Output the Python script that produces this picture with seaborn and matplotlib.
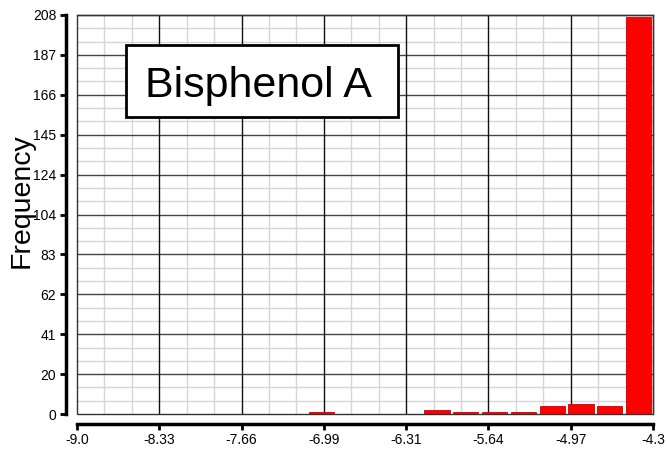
# =========================================================
# BISPHENOL A HISTOGRAM
# =========================================================

import matplotlib
matplotlib.use("Agg")

import matplotlib.pyplot as plt
from matplotlib.patches import Rectangle
from matplotlib.ticker import AutoMinorLocator
import seaborn as sns
import pandas as pd
import numpy as np

# =========================================================
# DATA
# =========================================================

title_text = "Bisphenol A"

x_min = -9.0
x_max = -4.3
n_bins = 20

bin_counts = [0, 0, 0, 0, 0, 0, 0, 0, 1, 0,
              0, 0, 2, 1, 1, 1, 4, 5, 4, 207]

x_tick_labels = ["-9.0", "-8.33", "-7.66", "-6.99",
                 "-6.31", "-5.64", "-4.97", "-4.3"]

y_tick_labels = ["0", "20", "41", "62", "83", "104",
                 "124", "145", "166", "187", "208"]

y_max = 208

# =========================================================
# PLOT
# =========================================================

sns.set_style("white")
plt.rcParams["font.family"] = ["Liberation Sans", "DejaVu Sans"]
plt.rcParams["text.color"] = "black"
plt.rcParams["axes.labelcolor"] = "black"

edges = np.linspace(x_min, x_max, n_bins + 1)
centers = (edges[:-1] + edges[1:]) / 2

df = pd.DataFrame({
    "value": centers,
    "count": bin_counts
})

fig = plt.figure(figsize=(6.67, 4.5), dpi=100)
ax = fig.add_axes([77 / 667, 36 / 450, 576 / 667, 399 / 450])

sns.histplot(
    data=df,
    x="value",
    weights="count",
    bins=n_bins,
    binrange=(x_min, x_max),
    shrink=0.88,
    color="#ff0000",
    edgecolor="#d00000",
    linewidth=0.6,
    alpha=1.0,
    ax=ax,
    zorder=3
)

ax.set_xlim(x_min, x_max)
ax.set_ylim(0, y_max)

x_ticks = np.linspace(x_min, x_max, len(x_tick_labels))
y_ticks = np.linspace(0, y_max, len(y_tick_labels))

ax.set_xticks(x_ticks)
ax.set_xticklabels(x_tick_labels, fontsize=9)
ax.set_yticks(y_ticks)
ax.set_yticklabels(y_tick_labels, fontsize=9)

# light minor grid from the axis, dark major grid drawn on top
ax.xaxis.set_minor_locator(AutoMinorLocator(3))
ax.yaxis.set_minor_locator(AutoMinorLocator(3))
ax.grid(which="minor", color="#d6d6d6", linewidth=1.0)
ax.grid(which="major", visible=False)
ax.set_axisbelow(True)

for yv in y_ticks[1:-1]:
    ax.axhline(yv, color="#444444", linewidth=1.0, zorder=1)
for xv in x_ticks[1:-1]:
    ax.axvline(xv, color="#111111", linewidth=1.0, zorder=1.1)

ax.tick_params(which="major", direction="out", length=4, width=2,
               color="black", labelcolor="black", pad=3,
               bottom=True, left=True)
ax.tick_params(which="minor", length=0)

# offset thick spines
for side in ["left", "bottom"]:
    ax.spines[side].set_linewidth(2.5)
    ax.spines[side].set_color("black")
ax.spines["left"].set_position(("outward", 8))
ax.spines["bottom"].set_position(("outward", 7))
for side in ["top", "right"]:
    ax.spines[side].set_linewidth(1)
    ax.spines[side].set_color("#333333")

# thin frame around the plot area
ax.add_patch(Rectangle(
    (0, 0), 1, 1,
    transform=ax.transAxes,
    fill=False,
    edgecolor="#333333",
    linewidth=1,
    zorder=4,
    clip_on=False
))

ax.set_xlabel("")
ax.set_ylabel("Frequency", fontsize=20.5)
ax.yaxis.set_label_coords(-0.074, 0.536)

# title box
ax.add_patch(Rectangle(
    (0.085, 0.744), 0.472, 0.181,
    transform=ax.transAxes,
    facecolor="white",
    edgecolor="black",
    linewidth=2,
    zorder=5
))

ax.text(
    0.315, 0.795,
    title_text,
    transform=ax.transAxes,
    ha="center",
    va="baseline",
    fontsize=31,
    zorder=6
)

fig.savefig("out.png", dpi=100)
plt.close(fig)
